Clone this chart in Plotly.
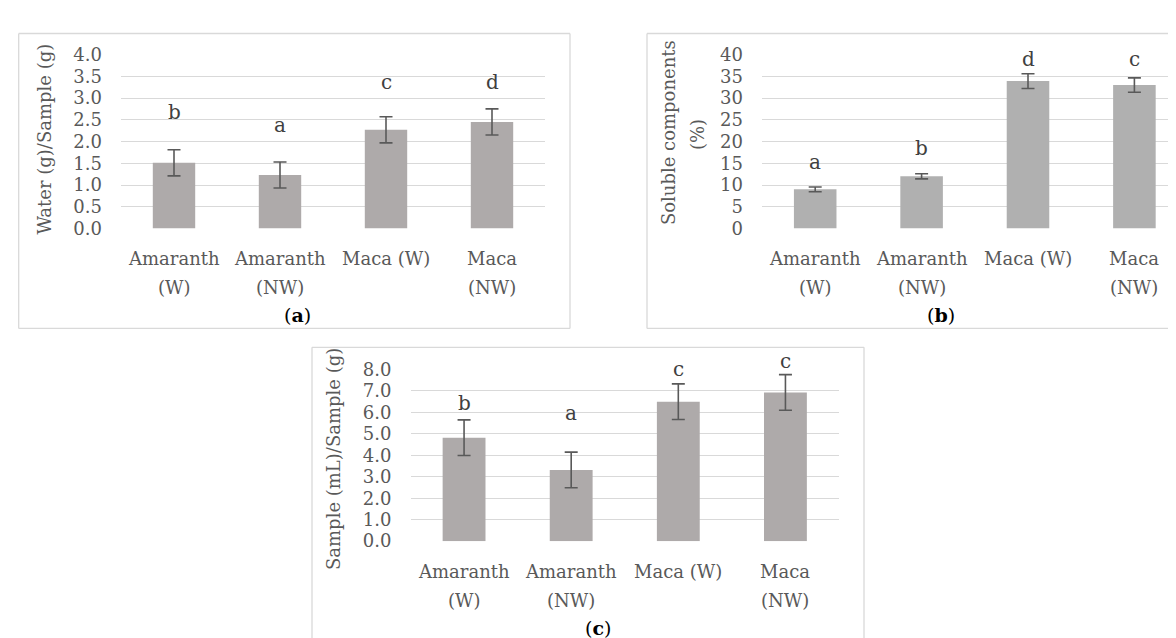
import plotly.graph_objects as go

# ---------------- data ----------------
categories = ["Amaranth (W)", "Amaranth (NW)", "Maca (W)", "Maca (NW)"]
category_lines = [["Amaranth", "(W)"], ["Amaranth", "(NW)"], ["Maca (W)"], ["Maca", "(NW)"]]

water_values = [1.51, 1.23, 2.27, 2.45]
water_err = [0.30, 0.30, 0.30, 0.30]
water_letters = ["b", "a", "c", "d"]
water_letter_y = [2.67, 2.37, 3.37, 3.37]
water_ticks = [0.0, 0.5, 1.0, 1.5, 2.0, 2.5, 3.0, 3.5, 4.0]

soluble_values = [9.0, 12.0, 33.9, 33.0]
soluble_err = [0.55, 0.60, 1.70, 1.65]
soluble_letters = ["a", "b", "d", "c"]
soluble_letter_y = [15.2, 18.5, 38.9, 38.9]
soluble_ticks = [0, 5, 10, 15, 20, 25, 30, 35, 40]

swell_values = [4.82, 3.32, 6.50, 6.93]
swell_err = [0.83, 0.83, 0.83, 0.83]
swell_letters = ["b", "a", "c", "c"]
swell_letter_y = [6.42, 5.97, 8.0, 8.4]
swell_ticks = [0.0, 1.0, 2.0, 3.0, 4.0, 5.0, 6.0, 7.0, 8.0]

# ---------------- styling helpers ----------------
W, H = 1176, 638
FONT = "DejaVu Serif"
GRAY_TXT = "#595959"
GRID = "#D9D9D9"


def px(xp):
    return xp / W


def py(yp):
    return 1 - yp / H


fig = go.Figure()

panels = [
    dict(vals=water_values, err=water_err, letters=water_letters, ly=water_letter_y,
         ticks=water_ticks, fmt=".1f", color="#AEAAAA", xa="x", ya="y",
         xdom=(113, 537), ydom=(36.7, 216.7), xrange=[-0.5, 3.5]),
    dict(vals=soluble_values, err=soluble_err, letters=soluble_letters, ly=soluble_letter_y,
         ticks=soluble_ticks, fmt="d", color="#B0B0B0", xa="x2", ya="y2",
         xdom=(754, 1176), ydom=(36.7, 216.7), xrange=[-0.5, -0.5 + 422 / 106.4]),
    dict(vals=swell_values, err=swell_err, letters=swell_letters, ly=swell_letter_y,
         ticks=swell_ticks, fmt=".1f", color="#AEAAAA", xa="x3", ya="y3",
         xdom=(402.5, 831), ydom=(362.3, 540), xrange=[-0.5, 3.5]),
]

annotations = []
shapes = []
layout_axes = {}

for i, p in enumerate(panels):
    fig.add_trace(go.Bar(
        x=categories, y=p["vals"], xaxis=p["xa"], yaxis=p["ya"],
        marker=dict(color=p["color"], line=dict(width=0)),
        width=0.4,
        error_y=dict(type="data", array=p["err"], color="#595959", thickness=1.6, width=6.5),
        showlegend=False, hoverinfo="skip",
    ))
    suffix = "" if i == 0 else str(i + 1)
    ymax = p["ticks"][-1]
    yr = [-ymax * 0.0005, ymax * 1.0005]
    layout_axes["xaxis" + suffix] = dict(
        domain=[px(p["xdom"][0]), px(p["xdom"][1])], anchor=p["ya"],
        type="category", range=p["xrange"], showticklabels=False,
        showgrid=False, zeroline=False, showline=False, ticks="", fixedrange=True,
    )
    layout_axes["yaxis" + suffix] = dict(
        domain=[py(p["ydom"][1]), py(p["ydom"][0])], anchor=p["xa"],
        range=yr, tickvals=p["ticks"], tickformat=p["fmt"],
        showgrid=True, gridcolor=GRID, gridwidth=1.3, zeroline=False, showline=False,
        ticks="", ticklabelstandoff=18,
        tickfont=dict(family=FONT, size=18, color=GRAY_TXT), fixedrange=True,
    )
    # pixels per data unit on this y axis (used when a letter sits above the axis top)
    ppu = (p["ydom"][1] - p["ydom"][0]) / (yr[1] - yr[0])
    # significance letters
    for cat, lt, yv in zip(categories, p["letters"], p["ly"]):
        anchor_y = min(yv, ymax)
        annotations.append(dict(
            x=cat, y=anchor_y, xref=p["xa"], yref=p["ya"], text=lt, showarrow=False,
            xanchor="center", yanchor="middle", yshift=(yv - anchor_y) * ppu,
            font=dict(family=FONT, size=20, color="#404040"),
        ))

# category labels (two lines each, Excel-like spacing)
label_rows = [(248, 277.5), (248, 277.5), (571.7, 601.7)]
for p, rows in zip(panels, label_rows):
    for cat, lines in zip(categories, category_lines):
        for li, txt in enumerate(lines):
            annotations.append(dict(
                x=cat, y=py(rows[li]), xref=p["xa"], yref="paper", text=txt,
                showarrow=False, xanchor="center", yanchor="middle",
                font=dict(family=FONT, size=18, color=GRAY_TXT),
            ))

# y-axis titles
ytitles = [
    ("Water (g)/Sample (g)", 36.7, 124),
    ("Soluble components", 660, 118),
    ("(%)", 689, 120),
    ("Sample (mL)/Sample (g)", 325, 455),
]
for txt, xx, yy in ytitles:
    annotations.append(dict(
        x=px(xx), y=py(yy), xref="paper", yref="paper", text=txt, textangle=-90,
        showarrow=False, xanchor="center", yanchor="middle",
        font=dict(family=FONT, size=18, color=GRAY_TXT),
    ))

# captions
captions = [("(<b>a</b>)", 289, 306), ("(<b>b</b>)", 932.5, 306), ("(<b>c</b>)", 590, 630)]
for txt, xx, yy in captions:
    annotations.append(dict(
        x=px(xx), y=py(yy), xref="paper", yref="paper", text=txt,
        showarrow=False, xanchor="center", yanchor="middle",
        font=dict(family=FONT, size=19, color="#000000"),
    ))

# chart-area borders
def seg(x0, y0, x1, y1):
    shapes.append(dict(type="line", xref="paper", yref="paper",
                       x0=px(x0), y0=py(y0), x1=px(x1), y1=py(y1),
                       line=dict(color=GRID, width=1.3)))

# panel a
seg(10.7, 15, 562, 15); seg(10.7, 320, 562, 320); seg(10.7, 15, 10.7, 320); seg(562, 15, 562, 320)
# panel b (cut at right edge)
seg(639, 15, 1180, 15); seg(639, 320, 1180, 320); seg(639, 15, 639, 320)
# panel c (cut at bottom edge)
seg(304, 339.5, 856, 339.5); seg(304, 339.5, 304, 645); seg(856, 339.5, 856, 645)

fig.update_layout(
    width=W, height=H,
    margin=dict(l=0, r=0, t=0, b=0),
    paper_bgcolor="white", plot_bgcolor="white",
    bargap=0.6, showlegend=False,
    annotations=annotations, shapes=shapes,
    **layout_axes,
)

fig.write_html("out.html")
